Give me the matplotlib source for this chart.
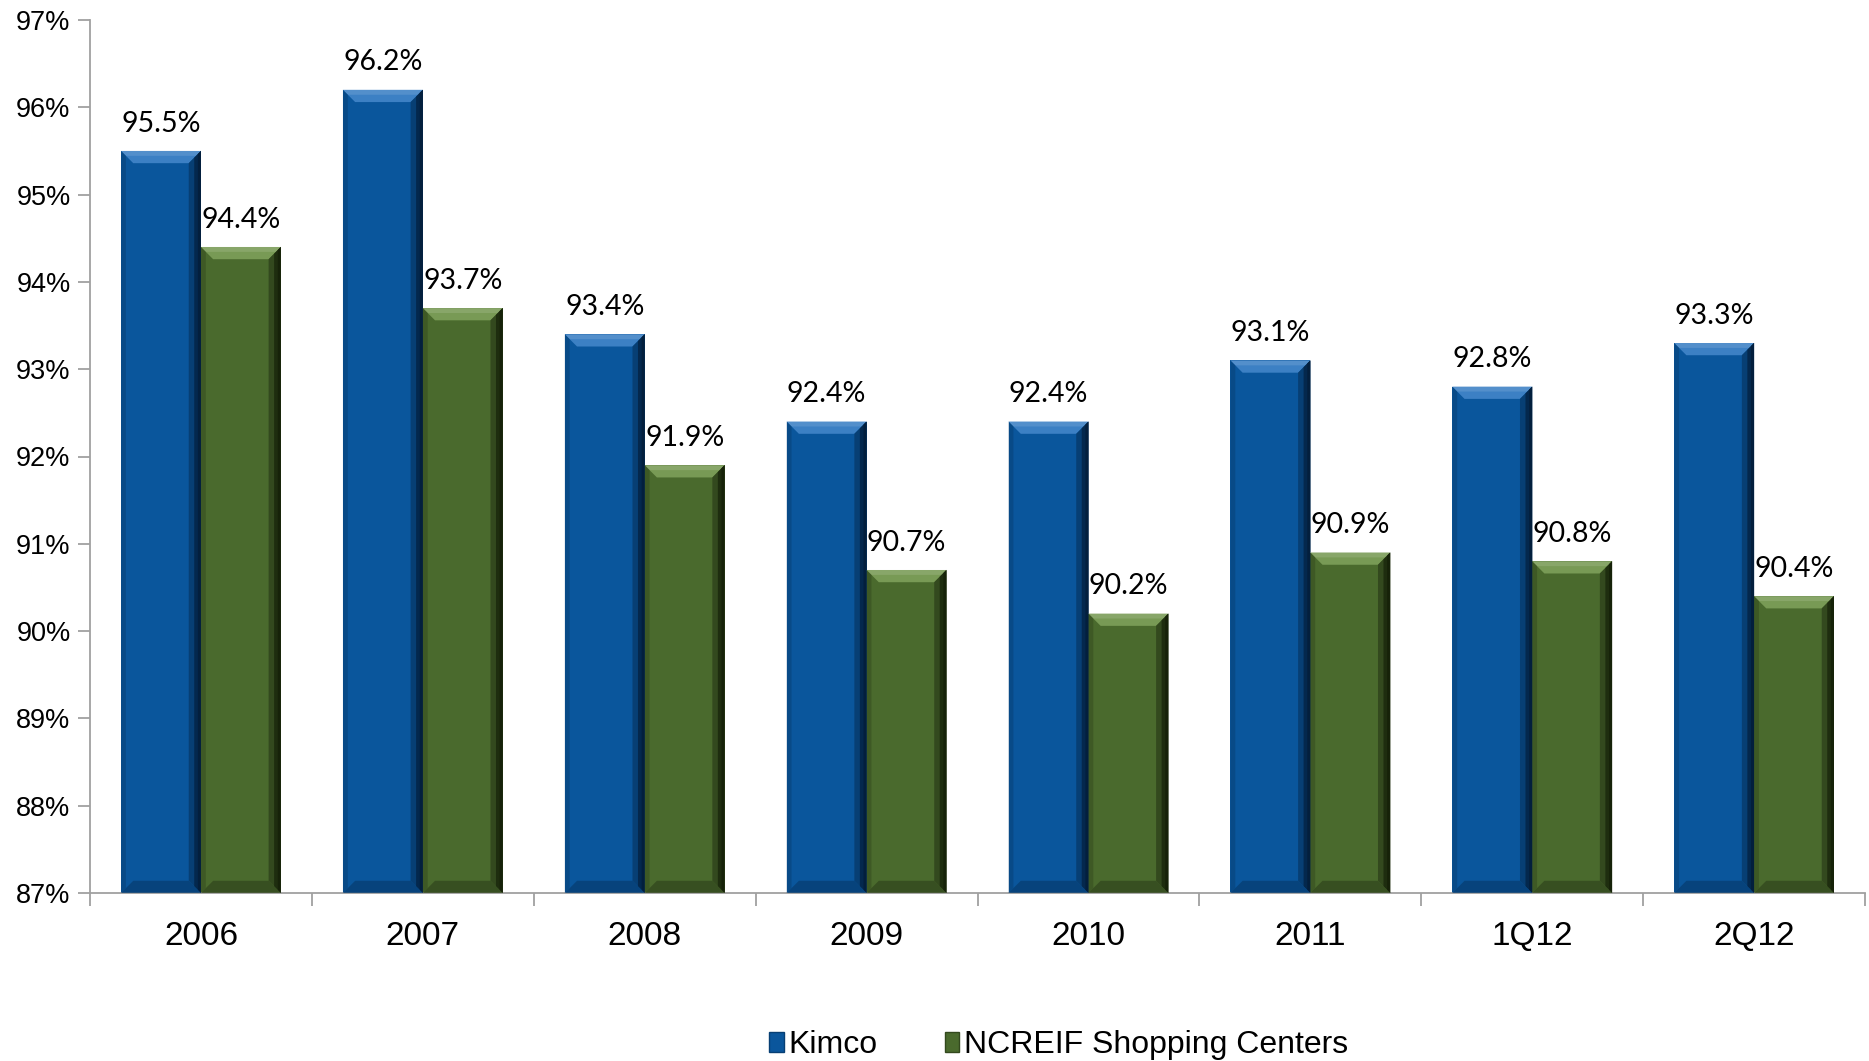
import matplotlib
matplotlib.use("Agg")
import matplotlib.pyplot as plt
from matplotlib.patches import Polygon, Patch
import numpy as np

categories = ["2006", "2007", "2008", "2009", "2010", "2011", "1Q12", "2Q12"]
kimco = [95.5, 96.2, 93.4, 92.4, 92.4, 93.1, 92.8, 93.3]
ncreif = [94.4, 93.7, 91.9, 90.7, 90.2, 90.9, 90.8, 90.4]
series_names = ["Kimco", "NCREIF Shopping Centers"]
y_ticks = [87, 88, 89, 90, 91, 92, 93, 94, 95, 96, 97]

blue = "#0A569C"
blue_light = "#3C80C4"
blue_dark = "#031F3D"
blue_bot = "#073F74"
green = "#4A6A2D"
green_light = "#789A55"
green_dark = "#162209"
green_bot = "#33491E"

fig = plt.figure(figsize=(18.69, 10.61), dpi=100)
ax = fig.add_axes([90/1869, 1-893/1061, (1865-90)/1869, (893-20)/1061])

ymin, ymax = 87, 97
ax.set_ylim(ymin, ymax)
ax.set_xlim(-0.5, len(categories) - 0.5)

w = 0.36
x = np.arange(len(categories))
dx = 0.055
dy = 0.14


def bevel_bar(xc, val, c, cl, cd, cb):
    x0, x1 = xc - w/2, xc + w/2
    y0, y1 = ymin, val
    ax.bar(xc, val - ymin, width=w, bottom=ymin, color=c, linewidth=0, zorder=2)
    # top
    ax.add_patch(Polygon([(x0, y1), (x1, y1), (x1-dx, y1-dy), (x0+dx, y1-dy)],
                         closed=True, facecolor=cl, edgecolor="none", zorder=3))
    ax.add_patch(Polygon([(x0, y1), (x1, y1), (x1-dx*0.4, y1-dy*0.4), (x0+dx*0.4, y1-dy*0.4)],
                         closed=True, facecolor="white", alpha=0.12, edgecolor="none", zorder=3))
    # right (stepped gradient)
    ax.add_patch(Polygon([(x1, y1), (x1, y0), (x1-dx, y0+dy), (x1-dx, y1-dy)],
                         closed=True, facecolor=cb, edgecolor="none", zorder=3))
    ax.add_patch(Polygon([(x1, y1), (x1, y0), (x1-dx*0.55, y0+dy*0.55), (x1-dx*0.55, y1-dy*0.55)],
                         closed=True, facecolor=cd, alpha=0.7, edgecolor="none", zorder=3))
    ax.add_patch(Polygon([(x1, y1), (x1, y0), (x1-dx*0.25, y0+dy*0.25), (x1-dx*0.25, y1-dy*0.25)],
                         closed=True, facecolor=cd, edgecolor="none", zorder=3))
    # bottom
    ax.add_patch(Polygon([(x0, y0), (x1, y0), (x1-dx, y0+dy), (x0+dx, y0+dy)],
                         closed=True, facecolor=cb, edgecolor="none", zorder=3, alpha=0.8))
    # left
    ax.add_patch(Polygon([(x0, y0), (x0, y1), (x0+dx*0.4, y1-dy*0.4), (x0+dx*0.4, y0+dy*0.4)],
                         closed=True, facecolor=cb, edgecolor="none", zorder=3, alpha=0.5))


for i in range(len(categories)):
    bevel_bar(x[i] - w/2, kimco[i], blue, blue_light, blue_dark, blue_bot)
    bevel_bar(x[i] + w/2, ncreif[i], green, green_light, green_dark, green_bot)
    for xc, v in ((x[i] - w/2, kimco[i]), (x[i] + w/2, ncreif[i])):
        ax.annotate(f"{v:.1f}%", xy=(xc, v), xytext=(0, 14), textcoords="offset points",
                    ha="center", va="baseline", fontsize=20.5, family="Lato", color="black")

ax.set_yticks(y_ticks)
ax.set_yticklabels([f"{t}%" for t in y_ticks], fontsize=19.5, family="Liberation Sans")
ax.set_xticks(x)
ax.set_xticklabels(categories, fontsize=24, family="Liberation Sans")
ax.set_xticks(np.arange(-0.5, len(categories), 1.0), minor=True)
ax.tick_params(axis="x", which="major", length=0, pad=20)
ax.tick_params(axis="x", which="minor", length=9, color="#A0A0A0", width=1.3)
ax.tick_params(axis="y", length=9, color="#A0A0A0", width=1.3, pad=5)

for s in ("top", "right"):
    ax.spines[s].set_visible(False)
for s in ("left", "bottom"):
    ax.spines[s].set_color("#A0A0A0")
    ax.spines[s].set_linewidth(1.3)

handles = [Patch(facecolor=blue, edgecolor=blue_bot), Patch(facecolor=green, edgecolor=green_bot)]
fig.legend(handles, series_names, loc="center", bbox_to_anchor=(0.5665, 0.015),
           ncol=2, frameon=False, prop={"family": "Liberation Sans", "size": 23},
           handlelength=0.45, handleheight=0.6, handletextpad=0.15, columnspacing=2.1)

fig.savefig("out.png", dpi=100)
